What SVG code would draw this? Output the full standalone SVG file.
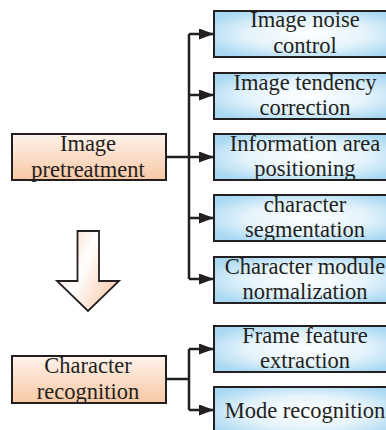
<svg xmlns="http://www.w3.org/2000/svg" width="386" height="430" viewBox="0 0 386 430">
<style>
.t{font-family:"Liberation Serif","Times New Roman",serif;font-size:22.5px;fill:#231f20;text-anchor:middle}
.bb{fill:url(#gb);stroke:#231f20;stroke-width:2}
.pb{fill:url(#gp);stroke:#231f20;stroke-width:2}
.ln{fill:none;stroke:#231f20;stroke-width:2.5}
</style>
<defs>
<radialGradient id="gb" cx="0.5" cy="0.5" r="0.6">
<stop offset="0" stop-color="#ffffff"/>
<stop offset="0.55" stop-color="#e4f3fb"/>
<stop offset="1" stop-color="#a8d8f2"/>
</radialGradient>
<linearGradient id="gp" x1="0" y1="0" x2="0" y2="1">
<stop offset="0" stop-color="#fef3ec"/>
<stop offset="1" stop-color="#f8c7a4"/>
</linearGradient>
<linearGradient id="ga" x1="0" y1="0" x2="1" y2="0.6">
<stop offset="0" stop-color="#f9cfb2"/>
<stop offset="0.5" stop-color="#ffffff"/>
<stop offset="1" stop-color="#f9cfb2"/>
</linearGradient>
<marker id="ah" markerWidth="15" markerHeight="11" refX="15" refY="5.5" orient="auto" markerUnits="userSpaceOnUse">
<path d="M0,0 L15,5.5 L0,11 Z" fill="#231f20"/>
</marker>
</defs>
<g id="connectors">
<path class="ln" d="M166,157 H189"/>
<path class="ln" d="M189,34 V279"/>
<path class="ln" d="M189,34 H214" marker-end="url(#ah)"/>
<path class="ln" d="M189,95 H214" marker-end="url(#ah)"/>
<path class="ln" d="M189,157 H214" marker-end="url(#ah)"/>
<path class="ln" d="M189,218 H214" marker-end="url(#ah)"/>
<path class="ln" d="M189,279 H214" marker-end="url(#ah)"/>
<path class="ln" d="M166,379 H189"/>
<path class="ln" d="M189,349 V410"/>
<path class="ln" d="M189,349 H214" marker-end="url(#ah)"/>
<path class="ln" d="M189,410 H214" marker-end="url(#ah)"/>
</g>
<g id="down-arrow">
<path d="M77.5,231 H99 V281 H119 L88,311 L57,281 H77.5 Z" fill="url(#ga)" stroke="#231f20" stroke-width="1.8" stroke-linejoin="miter"/>
</g>
<g id="image-pretreatment">
<rect class="pb" x="12" y="134" width="154" height="46"/>
<text class="t" x="88" y="151">Image</text>
<text class="t" x="88" y="177">pretreatment</text>
</g>
<g id="image-noise-control">
<rect class="bb" x="214" y="11" width="185" height="46"/>
<text class="t" x="305" y="27">Image noise</text>
<text class="t" x="305" y="53">control</text>
</g>
<g id="image-tendency-correction">
<rect class="bb" x="214" y="73" width="185" height="46"/>
<text class="t" x="305" y="90">Image tendency</text>
<text class="t" x="305" y="115">correction</text>
</g>
<g id="information-area-positioning">
<rect class="bb" x="214" y="134" width="185" height="46"/>
<text class="t" x="305" y="151">Information area</text>
<text class="t" x="305" y="176">positioning</text>
</g>
<g id="character-segmentation">
<rect class="bb" x="214" y="195" width="185" height="46"/>
<text class="t" x="305" y="212">character</text>
<text class="t" x="305" y="237">segmentation</text>
</g>
<g id="character-module-normalization">
<rect class="bb" x="214" y="257" width="185" height="46"/>
<text class="t" x="305" y="274">Character module</text>
<text class="t" x="305" y="299">normalization</text>
</g>
<g id="character-recognition">
<rect class="pb" x="12" y="356" width="154" height="47"/>
<text class="t" x="88" y="373">Character</text>
<text class="t" x="88" y="399">recognition</text>
</g>
<g id="frame-feature-extraction">
<rect class="bb" x="214" y="326" width="185" height="46"/>
<text class="t" x="305" y="343">Frame feature</text>
<text class="t" x="305" y="368">extraction</text>
</g>
<g id="mode-recognition">
<rect class="bb" x="214" y="387" width="185" height="50"/>
<text class="t" x="305" y="418">Mode recognition</text>
</g>
</svg>
